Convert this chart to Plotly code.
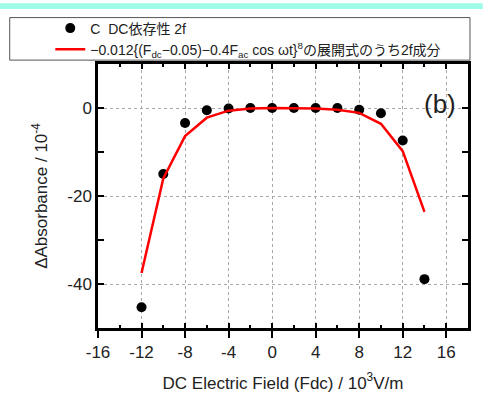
import plotly.graph_objects as go

# data
field_pts = [-12, -10, -8, -6, -4, -2, 0, 2, 4, 6, 8, 10, 12, 14]
absorb_pts = [-45.3, -15.0, -3.4, -0.5, -0.1, 0.0, 0.0, 0.0, 0.0, 0.0, -0.4, -1.2, -7.4, -38.9]
field_fit = [-12, -10, -8, -6, -4, -2, 0, 2, 4, 6, 8, 10, 12, 14]
absorb_fit = [-37.5, -16.0, -6.4, -2.2, -0.6, -0.1, 0.0, 0.0, -0.1, -0.4, -1.1, -3.6, -9.8, -23.6]
x_ticks = [-16, -12, -8, -4, 0, 4, 8, 12, 16]
y_ticks = [-40, -20, 0]

font_fam = "Liberation Sans, Arial, Noto Sans CJK JP, sans-serif"
txt_col = "#222222"

fig = go.Figure()
fig.add_trace(go.Scatter(
    x=field_pts, y=absorb_pts, mode="markers",
    marker=dict(color="black", size=10),
    name="C  DC依存性 2f"))
fig.add_trace(go.Scatter(
    x=field_fit, y=absorb_fit, mode="lines",
    line=dict(color="#ff0000", width=2.5),
    name="−0.012{(F<sub>dc</sub>−0.05)−0.4F<sub>ac</sub> cos ωt}<sup>8</sup>の展開式のうち2f成分"))
# invisible trace for overlay axis
fig.add_trace(go.Scatter(x=[-16], y=[0], xaxis="x2", mode="markers",
                         marker=dict(opacity=0), showlegend=False, hoverinfo="skip"))

fig.update_layout(
    width=483, height=402,
    margin=dict(l=98, r=12, t=62, b=67),
    paper_bgcolor="white", plot_bgcolor="white",
    font=dict(family=font_fam, color=txt_col, size=14),
    showlegend=True,
    legend=dict(x=-0.129, xanchor="left", y=1.195, yanchor="top",
                bgcolor="rgba(0,0,0,0)", font=dict(size=14, color=txt_col),
                tracegroupgap=0, itemwidth=30),
    xaxis=dict(
        range=[-16, 18], tickvals=x_ticks, ticktext=[str(v) for v in x_ticks],
        ticks="outside", ticklen=7, tickwidth=2, tickcolor="black",
        showline=True, linecolor="black", linewidth=2.5, mirror=True,
        showgrid=True, gridcolor="#a8a8a8", griddash="dot", gridwidth=1,
        zeroline=False,
        tickfont=dict(size=17, color=txt_col),
        title=dict(text="DC Electric Field (Fdc) / 10<sup>3</sup>V/m",
                   font=dict(size=17, color=txt_col), standoff=16),
        minor=dict(tickvals=[-14, -10, -6, -2, 2, 6, 10, 14], ticks="inside",
                   ticklen=3, tickwidth=2, tickcolor="black", showgrid=False),
    ),
    xaxis2=dict(
        overlaying="x", side="bottom", matches="x", range=[-16, 18],
        tickvals=x_ticks, ticks="inside", ticklen=5, tickwidth=2, tickcolor="black",
        mirror="allticks", showticklabels=False, showgrid=False, zeroline=False,
        showline=False,
        minor=dict(tickvals=[-14, -10, -6, -2, 2, 6, 10, 14], ticks="inside",
                   ticklen=3, tickwidth=2, tickcolor="black", showgrid=False),
    ),
    yaxis=dict(
        range=[-50, 10], tickvals=y_ticks, ticktext=[str(v) for v in y_ticks],
        ticks="inside", ticklen=6, tickwidth=2, tickcolor="black",
        showline=True, linecolor="black", linewidth=2.5, mirror="allticks",
        showgrid=True, gridcolor="#a8a8a8", griddash="dot", gridwidth=1,
        zeroline=False,
        tickfont=dict(size=17, color=txt_col),
        title=dict(text="ΔAbsorbance / 10<sup>-4</sup>",
                   font=dict(size=17, color=txt_col), standoff=16),
        minor=dict(tickvals=[-50, -30, -10, 10], ticks="inside",
                   ticklen=3, tickwidth=2, tickcolor="black", showgrid=False),
    ),
    shapes=[
        dict(type="rect", xref="paper", yref="paper",
             x0=-0.27, x1=1.04, y0=1.2088, y1=1.23,
             fillcolor="#9ffce6", line=dict(width=0), layer="below"),
        dict(type="rect", xref="paper", yref="paper",
             x0=-0.2386, x1=1.0054, y0=1.0147, y1=1.1758,
             fillcolor="rgba(0,0,0,0)", line=dict(color="#555555", width=1)),
    ],
    annotations=[
        dict(x=15.4, y=1.0, xref="x", yref="y", text="(b)", showarrow=False,
             font=dict(size=26, color=txt_col, family=font_fam)),
    ],
)

fig.write_html("out.html", config={"displayModeBar": False},
               post_script="document.body.style.margin='0';")
